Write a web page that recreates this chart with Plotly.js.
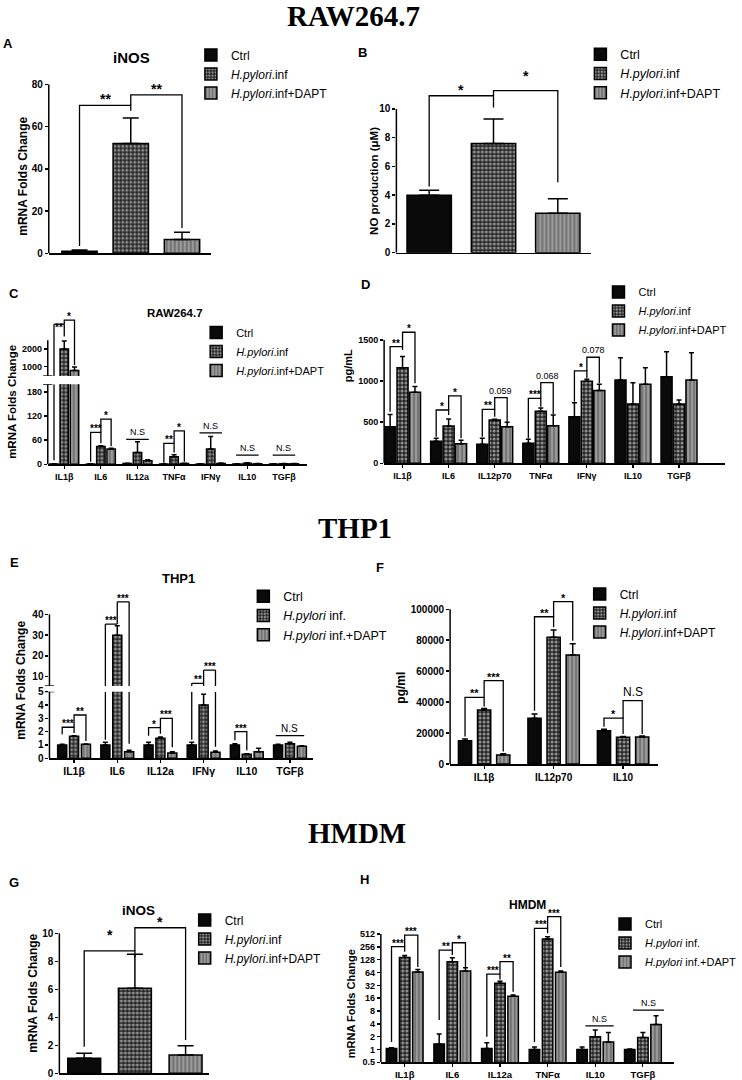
<!DOCTYPE html>
<html><head><meta charset="utf-8">
<script src="https://cdn.plot.ly/plotly-3.0.1.min.js"></script>
<style>body{margin:0;background:#fff}#chart{width:742px;height:1080px}</style>
</head><body><div id="chart"></div>
<script>
// ---------------- DATA ----------------
const groupNames = ['Ctrl', '<i>H.pylori</i>.inf', '<i>H.pylori</i>.inf+DAPT'];
const groupNamesHuman = ['Ctrl', '<i>H.pylori</i> inf.', '<i>H.pylori</i> inf.+DAPT'];

// A: RAW264.7 iNOS mRNA
const A_vals = [1.0, 52.0, 6.5];
const A_err  = [0.6, 12.0, 3.5];
const A_sig  = [[0,0,1,0, 70, 3.5, 67.5, '**'], [1,0,2,0, 75, 70, 12, '**']];

// B: NO production
const B_vals = [4.0, 7.6, 2.75];
const B_err  = [0.35, 1.7, 1.0];
const B_sig  = [[0,0,1,0, 10.92, 4.6, 10.1, '*'], [1,0,2,0, 11.27, 10.92, 4.9, '*', 11.9]];

// C: RAW264.7 mRNA (broken axis)
const C_cats = ['IL1β','IL6','IL12a','TNFα','IFNγ','IL10','TGFβ'];
const C_ctrl = [1, 1, 2, 1, 1, 1, 1];
const C_ctrl_err = [0.3, 0.3, 0.8, 0.3, 0.3, 0.3, 0.3];
const C_hp = [2000, 44, 29, 19, 38, 2.5, 1.5];
const C_hp_err = [450, 2, 27, 5, 31, 1.5, 0.5];
const C_dapt = [780, 38, 9, 2, 2, 1.5, 1.5];
const C_dapt_err = [200, 2, 2, 0.5, 1, 0.5, 0.3];
const C_sig = [
  [0,0,0,1, 3400, 10, 2700, '**', 3000],
  [0,1,0,2, 3630, 3400, 1100, '*'],
  [1,0,1,1, 79, 6.5, 52, '***'],
  [1,1,1,2, 112, 79, 45, '*'],
  [3,0,3,1, 52, 4, 29, '**'],
  [3,1,3,2, 83, 52, 6.5, '*'],
  [2,-0.1,2,2.1, 62, null, null, 'N.S'],
  [4,-0.1,4,2.1, 78, null, null, 'N.S'],
  [5,-0.1,5,2.1, 23, null, null, 'N.S'],
  [6,-0.1,6,2.1, 23, null, null, 'N.S']
];

// D: RAW264.7 cytokines pg/mL
const D_cats = ['IL1β','IL6','IL12p70','TNFα','IFNγ','IL10','TGFβ'];
const D_ctrl = [445, 268, 231, 243, 567, 1013, 1054];
const D_ctrl_err = [150, 36, 73, 49, 170, 272, 304];
const D_hp = [1163, 454, 527, 633, 997, 721, 721];
const D_hp_err = [135, 85, 10, 40, 25, 260, 49];
const D_dapt = [864, 239, 445, 458, 884, 961, 1013];
const D_dapt_err = [70, 41, 53, 130, 77, 200, 333];
const D_sig = [
  [0,0,0,1, 1419, 628, 1379, '**'],
  [0,1,0,2, 1594, 1419, 973, '*'],
  [1,0,1,1, 648, 324, 588, '*'],
  [1,1,1,2, 819, 648, 304, '*'],
  [2,0,2,1, 657, 324, 567, '**'],
  [2,1,2,2, 798, 657, 506, '0.059'],
  [3,0,3,1, 790, 304, 689, '***'],
  [3,1,3,2, 981, 790, 600, '0.068'],
  [4,0,4,1, 1123, 750, 1034, '*'],
  [4,1,4,2, 1290, 1123, 973, '0.078']
];

// E: THP1 mRNA (broken axis)
const E_cats = ['IL1β','IL6','IL12a','IFNγ','IL10','TGFβ'];
const E_ctrl = [1.0, 1.0, 1.0, 1.0, 1.0, 1.0];
const E_ctrl_err = [0.05, 0.2, 0.2, 0.2, 0.1, 0.05];
const E_hp = [1.65, 30, 1.5, 4.0, 0.3, 1.1];
const E_hp_err = [0.05, 4.5, 0.1, 0.8, 0.05, 0.1];
const E_dapt = [1.05, 0.5, 0.4, 0.45, 0.5, 0.9];
const E_dapt_err = [0.03, 0.1, 0.1, 0.1, 0.25, 0.05];
const E_sig = [
  [0,0,0,1, 2.33, 1.8, 1.9, '***'],
  [0,1,0,2, 3.25, 2.33, 1.3, '**'],
  [1,0,1,1, 35.3, 1.4, 35.3, '***'],
  [1,1,1,2, 46, 35.3, 1.1, '***'],
  [2,0,2,1, 2.3, 1.7, 1.85, '*'],
  [2,1,2,2, 3.0, 2.3, 0.83, '***'],
  [3,0,3,1, 6.8, 1.4, 5.0, '**'],
  [3,1,3,2, 13.2, 6.8, 0.87, '***'],
  [4,0,4,1, 2.0, 1.35, 0.6, '***'],
  [5,-0.2,5,2.2, 1.7, null, null, 'N.S']
];

// F: THP1 cytokines pg/ml
const F_cats = ['IL1β','IL12p70','IL10'];
const F_ctrl = [15100, 29600, 21550];
const F_ctrl_err = [1100, 2800, 900];
const F_hp = [34950, 82000, 17300];
const F_hp_err = [1000, 4700, 500];
const F_dapt = [5800, 70500, 17500];
const F_dapt_err = [800, 7200, 600];
const F_sig = [
  [0,0,0,1, 43100, 17700, 37100, '**'],
  [0,1,0,2, 53900, 43100, 8000, '***'],
  [1,0,1,1, 95200, 34500, 88400, '**'],
  [1,1,1,2, 104900, 95200, 79700, '*'],
  [2,0,2,1, 29600, 24100, 19400, '*'],
  [2,1,2,2, 41000, 29600, 19400, 'N.S']
];

// G: HMDM iNOS
const G_vals = [1.07, 6.07, 1.3];
const G_err  = [0.36, 2.43, 0.67];
const G_sig  = [[0,0,1,0, 8.74, 1.9, 8.3, '*', 9.45], [1,0,2,0, 10.4, 8.74, 2.38, '*']];

// H: HMDM mRNA (log2 axis)
const H_cats = ['IL1β','IL6','IL12a','TNFα','IL10','TGFβ'];
const H_ctrl = [1.05, 1.35, 1.05, 1.0, 1.0, 1.0];
const H_ctrl_err = [0.05, 0.95, 0.38, 0.15, 0.15, 0.03];
const H_hp = [145, 115, 35.7, 393, 1.98, 1.92];
const H_hp_err = [15, 28, 4.3, 52, 0.87, 0.58];
const H_dapt = [66, 70, 17.9, 65, 1.5, 3.87];
const H_dapt_err = [10, 13, 1.1, 5, 1.0, 2.3];
const H_ticks = [0.5, 1, 2, 4, 8, 16, 32, 64, 128, 256, 512];
const H_sig = [
  [0,0,0,1, 259, 1.5, 198, '***'],
  [0,1,0,2, 487, 259, 87, '***'],
  [1,0,1,1, 216, 4.9, 165, '**'],
  [1,1,1,2, 321, 216, 87, '*'],
  [2,0,2,1, 59, 2, 44, '***'],
  [2,1,2,2, 115, 59, 22.6, '**'],
  [3,0,3,1, 700, 1.5, 534, '***'],
  [3,1,3,2, 1314, 700, 87, '***'],
  [4,0.25,4,2.4, 3.6, null, null, 'N.S'],
  [5,0.25,5,2.6, 8.4, null, null, 'N.S']
];

// ---------------- BUILD ----------------
const W = 742, H = 1080;
const FONT = "'Liberation Sans', Arial, sans-serif";
const px = v => v / W;
const py = v => 1 - v / H;

const traces = [], shapes = [], annotations = [];
const layout = {
  width: W, height: H, margin: {l:0, r:0, t:0, b:0},
  paper_bgcolor: '#ffffff', plot_bgcolor: 'rgba(0,0,0,0)',
  barmode: 'overlay', showlegend: true,
  font: {family: FONT, color: '#000'}
};

const STYLE = [
  {color: '#0a0a0a'},
  {color: '#262626', pattern: {shape: '.', bgcolor: '#262626', fgcolor: '#ffffff', size: 4, solidity: 0.45, fillmode: 'overlay'}},
  {color: '#9a9a9a', pattern: {shape: '|', bgcolor: '#9a9a9a', fgcolor: '#1a1a1a', size: 4, solidity: 0.3, fillmode: 'overlay'}}
];

const axName = (k, n) => n === 1 ? k + 'axis' : k + 'axis' + n;
const axRef = (k, n) => n === 1 ? k : k + n;

function pos(P, c, s) { return P.single ? c : c + (s - 1) * P.sp; }

function buildPanel(P) {
  const xr = axRef('x', P.xn);
  layout[axName('x', P.xn)] = {
    domain: [px(P.xPx[0]), px(P.xPx[1])], range: P.xRange, anchor: axRef('y', P.segs[0].yn),
    showline: true, linecolor: '#000', linewidth: 1.5, showgrid: false, zeroline: false,
    ticks: P.cats ? 'outside' : '', ticklen: 3, tickwidth: 1.2, tickcolor: '#000',
    tickmode: 'array', tickvals: P.cats ? P.cats.map((_, i) => i) : [], ticktext: P.cats || [],
    tickfont: {family: FONT, size: P.catSize || 9, color: '#000', weight: 'bold'}, fixedrange: true
  };
  P.segs.forEach((seg, k) => {
    const yr = axRef('y', seg.yn);
    const isLog = seg.type === 'log';
    const f = isLog ? Math.log10 : (v => v);
    layout[axName('y', seg.yn)] = {
      domain: [py(seg.yPx[0]), py(seg.yPx[1])], range: seg.range.map(f), type: isLog ? 'log' : 'linear',
      anchor: xr, showline: false, showgrid: false, zeroline: false,
      ticks: 'outside', ticklen: 3, tickwidth: 1.5, tickcolor: '#000',
      tickmode: 'array', tickvals: seg.tickvals, ticktext: seg.ticktext || seg.tickvals.map(String),
      tickfont: {family: FONT, size: P.tickSize || 9, color: '#000', weight: 'bold'}, fixedrange: true
    };
    shapes.push({type: 'line', xref: xr + ' domain', x0: 0, x1: 0, yref: yr,
      y0: seg.line[0], y1: seg.line[1], line: {color: '#000', width: 1.5}});
    for (let s = 0; s < 3; s++) {
      const vals = P.single ? [P.vals[s]] : P.vals[s];
      const errs = P.single ? [P.errs[s]] : P.errs[s];
      const xs = P.single ? [s] : vals.map((_, i) => i);
      traces.push({
        type: 'bar', name: P.names[s], x: xs, y: vals,
        width: P.bw, offset: -P.bw / 2 + (P.single ? 0 : (s - 1) * P.sp),
        xaxis: xr, yaxis: yr,
        marker: Object.assign({line: {color: '#000', width: 1.5}}, STYLE[s]),
        error_y: {type: 'data', array: errs, arrayminus: errs.map(() => 0), symmetric: false,
          visible: true, color: '#000', thickness: 1.5, width: P.errW},
        showlegend: k === 0, legend: P.legendId, hoverinfo: 'skip'
      });
    }
  });
  if (P.breaks) {
    const lo = P.segs[0], up = P.segs[1];
    [[lo, lo.range[1]], [up, up.range[0]]].forEach(([seg, v]) => {
      shapes.push({type: 'line', xref: xr + ' domain', x0: -0.018, x1: 0.018,
        yref: axRef('y', seg.yn), y0: v, y1: v, line: {color: '#000', width: 1.3}});
    });
  }
  layout[P.legendId] = {
    x: px(P.legend.x), y: py(P.legend.y), xanchor: 'left', yanchor: 'top',
    font: {family: FONT, size: P.legend.size, color: '#000'}, bgcolor: 'rgba(0,0,0,0)',
    borderwidth: 0, tracegroupgap: 0, traceorder: 'normal'
  };
  const lines = P.segs.map(() => ({x: [], y: []}));
  const segOf = v => { for (let k = P.segs.length - 1; k >= 0; k--) { if (v >= P.segs[k].range[0]) return k; } return 0; };
  const vline = (x, a, b) => {
    if (a === null || a === undefined) return;
    const lo = Math.min(a, b), hi = Math.max(a, b);
    P.segs.forEach((seg, k) => {
      const s0 = Math.max(lo, seg.range[0]), s1 = Math.min(hi, seg.range[1]);
      if (s1 > s0) { lines[k].x.push(x, x, null); lines[k].y.push(s0, s1, null); }
    });
  };
  P.sig.forEach(b => {
    const [ca, sa, cb, sb, top, la, lb, label, ly] = b;
    const xa = pos(P, ca, sa), xb = pos(P, cb, sb);
    const k = segOf(top);
    const single = (la === null) || (segOf(la) === k && segOf(lb) === k);
    if (la !== null && single) {
      lines[k].x.push(xa, xa, xb, xb, null); lines[k].y.push(la, top, top, lb, null);
    } else {
      vline(xa, la, top); vline(xb, lb, top);
      lines[k].x.push(xa, xb, null); lines[k].y.push(top, top, null);
    }
    const yv = (ly === undefined) ? top : ly;
    const seg = P.segs[segOf(yv)];
    const isStar = label.indexOf('*') === 0;
    annotations.push({
      xref: xr, yref: axRef('y', seg.yn), x: (xa + xb) / 2,
      y: seg.type === 'log' ? Math.log10(yv) : yv,
      text: label, showarrow: false, xanchor: 'center', yanchor: 'bottom',
      yshift: isStar ? -4 : 0,
      font: {family: FONT, size: isStar ? P.starSize : (label === 'N.S' ? P.nsSize : P.pSize),
             color: '#000000', weight: isStar ? 'bold' : 'normal'}
    });
  });
  lines.forEach((ln, k) => {
    traces.push({type: 'scatter', mode: 'lines', x: ln.x, y: ln.y, xaxis: xr, yaxis: axRef('y', P.segs[k].yn),
      line: {color: '#000', width: 1.3}, connectgaps: false, showlegend: false, hoverinfo: 'skip'});
  });
}

const panels = [
  {xn: 1, xPx: [49.3, 213], xRange: [-0.6, 2.56], single: true, vals: A_vals, errs: A_err, bw: 0.69, errW: 8,
   segs: [{yn: 1, yPx: [253.3, 84.3], range: [0, 80], tickvals: [0, 20, 40, 60, 80], line: [0, 80]}],
   tickSize: 10, legendId: 'legend', names: groupNames, sig: A_sig, starSize: 14,
   legend: {x: 193, y: 40.5, size: 12}},
  {xn: 2, xPx: [400.7, 597.7], xRange: [-0.51, 2.52], single: true, vals: B_vals, errs: B_err, bw: 0.69, errW: 10,
   segs: [{yn: 2, yPx: [252.7, 70], range: [0, 12.71], tickvals: [0, 2, 4, 6, 8, 10], line: [0, 10]}],
   tickSize: 10, legendId: 'legend2', names: groupNames, sig: B_sig, starSize: 14,
   legend: {x: 586.7, y: 39.5, size: 12.5}},
  {xn: 3, xPx: [48.3, 310], xRange: [-0.45, 6.62], cats: C_cats,
   vals: [C_ctrl, C_hp, C_dapt], errs: [C_ctrl_err, C_hp_err, C_dapt_err], bw: 0.23, sp: 0.28, errW: 2.5,
   segs: [{yn: 3, yPx: [464.3, 384.3], range: [0, 198.5], tickvals: [0, 60, 120, 180], line: [0, 198.5]},
          {yn: 4, yPx: [376, 318], range: [475, 3751], tickvals: [1000, 2000], line: [475, 2500]}],
   breaks: true, tickSize: 9, catSize: 9, legendId: 'legend3', names: groupNames, sig: C_sig,
   starSize: 10, nsSize: 9, legend: {x: 198.3, y: 318, size: 11}},
  {xn: 4, xPx: [388.3, 733], xRange: [-0.40, 7.0], cats: D_cats,
   vals: [D_ctrl, D_hp, D_dapt], errs: [D_ctrl_err, D_hp_err, D_dapt_err], bw: 0.24, sp: 0.27, errW: 2.5,
   segs: [{yn: 5, yPx: [463.3, 325], range: [0, 1682], tickvals: [0, 500, 1000, 1500], line: [0, 1500]}],
   tickSize: 9, catSize: 9, legendId: 'legend4', names: groupNames, sig: D_sig,
   starSize: 10, pSize: 9, legend: {x: 605, y: 277.5, size: 11}},
  {xn: 5, xPx: [50, 316.7], xRange: [-0.57, 5.54], cats: E_cats,
   vals: [E_ctrl, E_hp, E_dapt], errs: [E_ctrl_err, E_hp_err, E_dapt_err], bw: 0.21, sp: 0.275, errW: 2.5,
   segs: [{yn: 6, yPx: [758.3, 691.7], range: [0, 5], tickvals: [0, 1, 2, 3, 4, 5], line: [0, 5]},
          {yn: 7, yPx: [686, 595], range: [5.53, 49.3], tickvals: [10, 20, 30, 40], line: [5.53, 40]}],
   breaks: true, tickSize: 10, catSize: 10.5, legendId: 'legend5', names: groupNamesHuman, sig: E_sig,
   starSize: 10, nsSize: 10, legend: {x: 246, y: 581.5, size: 12.5}},
  {xn: 6, xPx: [455, 665], xRange: [-0.49, 2.5], cats: F_cats,
   vals: [F_ctrl, F_hp, F_dapt], errs: [F_ctrl_err, F_hp_err, F_dapt_err], bw: 0.19, sp: 0.275, errW: 3,
   segs: [{yn: 8, yPx: [764, 588], range: [0, 113770], tickvals: [0, 20000, 40000, 60000, 80000, 100000], line: [0, 100000]}],
   tickSize: 10, catSize: 10, legendId: 'legend6', names: groupNames, sig: F_sig,
   starSize: 11, nsSize: 12, legend: {x: 586, y: 579.5, size: 12}},
  {xn: 7, xPx: [60, 211.7], xRange: [-0.49, 2.47], single: true, vals: G_vals, errs: G_err, bw: 0.65, errW: 8,
   segs: [{yn: 9, yPx: [1073.3, 915], range: [0, 11.31], tickvals: [0, 2, 4, 6, 8, 10], line: [0, 10]}],
   tickSize: 10, legendId: 'legend7', names: groupNames, sig: G_sig, starSize: 14,
   legend: {x: 186.7, y: 905.5, size: 12}},
  {xn: 8, xPx: [385, 681.7], xRange: [-0.5, 5.66], cats: H_cats,
   vals: [H_ctrl, H_hp, H_dapt], errs: [H_ctrl_err, H_hp_err, H_dapt_err], bw: 0.22, sp: 0.276, errW: 2.5,
   segs: [{yn: 10, yPx: [1062.3, 905], range: [0.5, 2470], type: 'log', tickvals: H_ticks,
           ticktext: H_ticks.map(String), line: [0.5, 512]}],
   tickSize: 9, catSize: 9.5, legendId: 'legend8', names: groupNamesHuman, sig: H_sig,
   starSize: 10, nsSize: 9, legend: {x: 611.7, y: 909.5, size: 11}}
];
panels.forEach(buildPanel);

// ---------- texts ----------
function txt(text, x, y, size, opts) {
  annotations.push(Object.assign({xref: 'paper', yref: 'paper', x: px(x), y: py(y), text: text,
    showarrow: false, xanchor: 'center', yanchor: 'middle',
    font: {family: FONT, size: size, color: '#000'}}, opts || {}));
}
const SERIF = "'Liberation Serif', 'Times New Roman', serif";
txt('RAW264.7', 357, 16, 29, {font: {family: SERIF, size: 29, color: '#000', weight: 'bold'}});
txt('THP1', 359, 528, 29, {font: {family: SERIF, size: 29, color: '#000', weight: 'bold'}});
txt('HMDM', 361, 833, 29, {font: {family: SERIF, size: 29, color: '#000', weight: 'bold'}});

const bold = (s) => ({font: {family: FONT, size: s, color: '#000', weight: 'bold'}});
[['A', 8, 43], ['B', 366, 52], ['C', 14, 293], ['D', 369, 285], ['E', 15, 562], ['F', 384, 567], ['G', 14, 882], ['H', 368, 879]]
  .forEach(([t, x, y]) => txt(t, x, y, 13, bold(13)));

txt('iNOS', 133, 58, 15, bold(15));
txt('RAW264.7', 177, 313, 11.5, bold(11.5));
txt('THP1', 180, 578, 13, bold(13));
txt('iNOS', 140, 910, 13.5, bold(13.5));
txt('HMDM', 533, 905, 12, bold(12));

const rot = (s) => ({textangle: -90, font: {family: FONT, size: s, color: '#000', weight: 'bold'}});
txt('mRNA Folds Change', 23, 176, 12, rot(12));
txt('NO production (μM)', 378, 181, 11.5, rot(11.5));
txt('mRNA Folds Change', 12, 402, 11.5, rot(11.5));
txt('pg/mL', 352, 366, 11, rot(11));
txt('mRNA Folds Change', 21, 680, 12, rot(12));
txt('pg/ml', 405, 688, 12, rot(12));
txt('mRNA Folds Change', 33, 993, 12, rot(12));
txt('mRNA Folds Change', 355, 1004, 11, rot(11));

layout.shapes = shapes;
layout.annotations = annotations;

Plotly.newPlot('chart', traces, layout, {displayModeBar: false, staticPlot: true});
</script>
</body></html>
